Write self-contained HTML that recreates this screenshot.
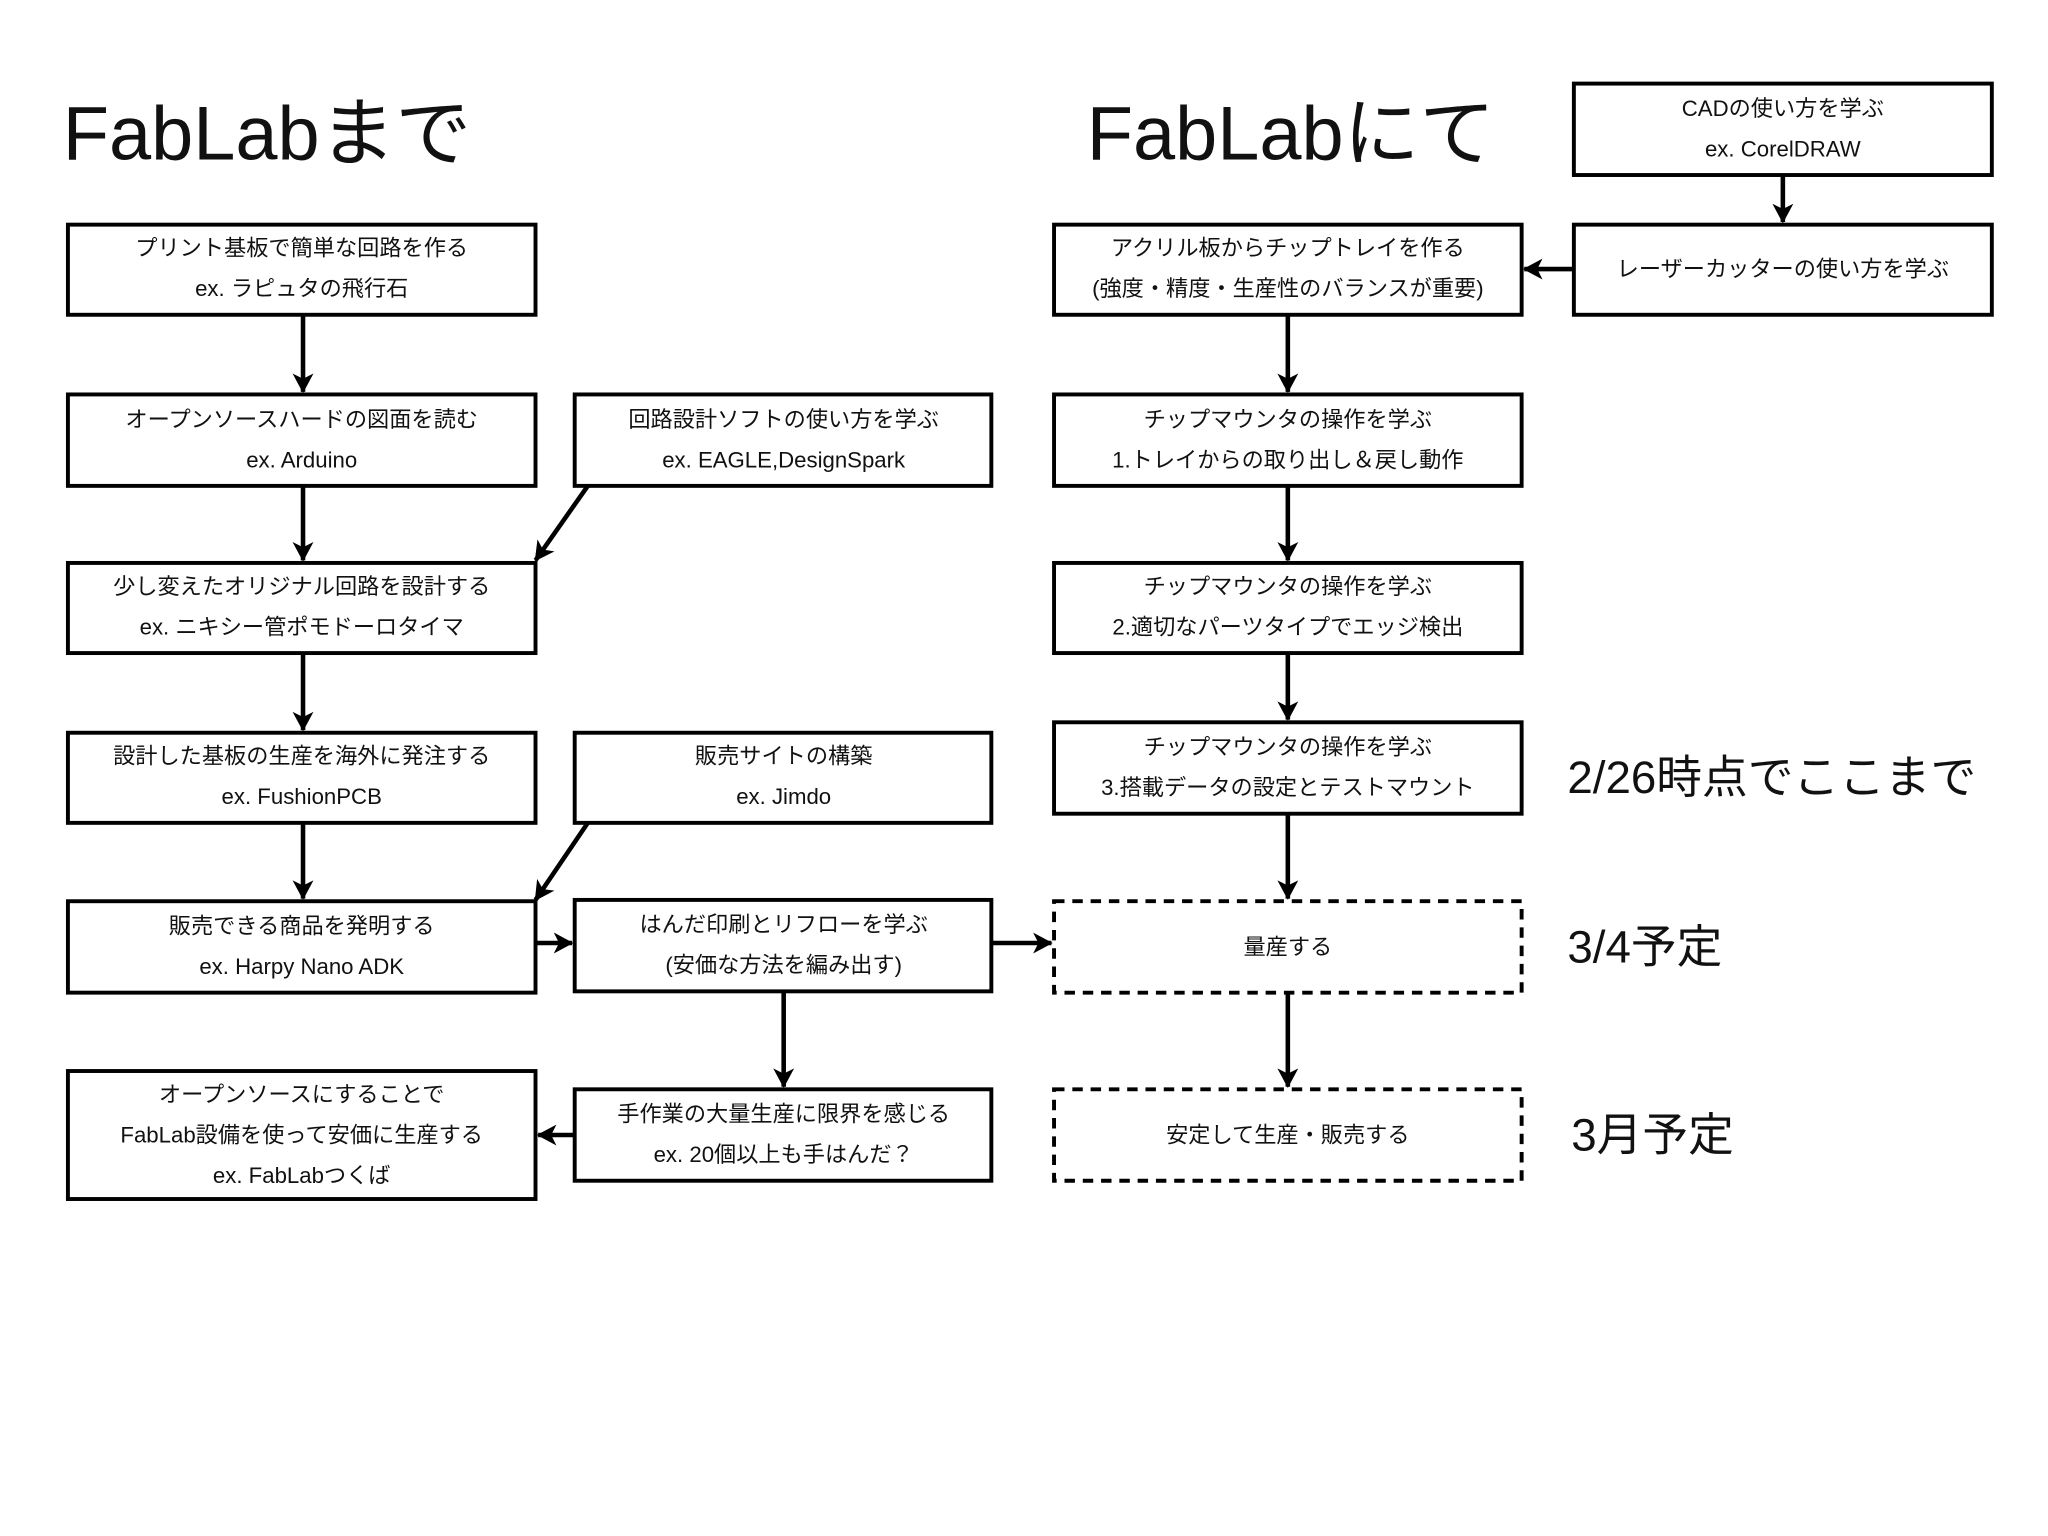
<!DOCTYPE html>
<html><head><meta charset="utf-8"><style>
html,body{margin:0;padding:0;background:#fff;}
svg{display:block;}
text{font-family:"Liberation Sans","Noto Sans CJK JP",sans-serif;fill:#111;}
.t{font-size:17px;text-anchor:middle;dominant-baseline:central;}
.b{fill:#fff;stroke:#000;stroke-width:3;}
.d{fill:#fff;stroke:#000;stroke-width:3;stroke-dasharray:8,6;}
.a{stroke:#000;stroke-width:3.5;fill:none;marker-end:url(#ah);}
</style></head><body>
<svg width="2048" height="1536" viewBox="0 0 1568 1176" xmlns="http://www.w3.org/2000/svg">
<defs>
<marker id="ah" markerWidth="18" markerHeight="16" refX="14" refY="8" orient="auto" markerUnits="userSpaceOnUse">
<path d="M0,0 L15,8 L0,16 L4,8 Z" fill="#000"/>
</marker>
</defs>
<text x="48" y="122" style="font-size:58px;">FabLabまで</text>
<text x="832" y="122" style="font-size:58px;">FabLabにて</text>

<!-- left column -->
<rect class="b" x="52" y="172" width="358" height="69"/>
<text class="t" x="231" y="190">プリント基板で簡単な回路を作る</text>
<text class="t" x="231" y="221">ex. ラピュタの飛行石</text>
<rect class="b" x="52" y="302" width="358" height="70"/>
<text class="t" x="231" y="321">オープンソースハードの図面を読む</text>
<text class="t" x="231" y="352">ex. Arduino</text>
<rect class="b" x="52" y="431" width="358" height="69"/>
<text class="t" x="231" y="449">少し変えたオリジナル回路を設計する</text>
<text class="t" x="231" y="480">ex. ニキシー管ポモドーロタイマ</text>
<rect class="b" x="52" y="561" width="358" height="69"/>
<text class="t" x="231" y="579">設計した基板の生産を海外に発注する</text>
<text class="t" x="231" y="610">ex. FushionPCB</text>
<rect class="b" x="52" y="690" width="358" height="70"/>
<text class="t" x="231" y="709">販売できる商品を発明する</text>
<text class="t" x="231" y="740">ex. Harpy Nano ADK</text>
<rect class="b" x="52" y="820" width="358" height="98"/>
<text class="t" x="231" y="838">オープンソースにすることで</text>
<text class="t" x="231" y="869">FabLab設備を使って安価に生産する</text>
<text class="t" x="231" y="900">ex. FabLabつくば</text>

<!-- middle column -->
<rect class="b" x="440" y="302" width="319" height="70"/>
<text class="t" x="600" y="321">回路設計ソフトの使い方を学ぶ</text>
<text class="t" x="600" y="352">ex. EAGLE,DesignSpark</text>
<rect class="b" x="440" y="561" width="319" height="69"/>
<text class="t" x="600" y="579">販売サイトの構築</text>
<text class="t" x="600" y="610">ex. Jimdo</text>
<rect class="b" x="440" y="689" width="319" height="70"/>
<text class="t" x="600" y="708">はんだ印刷とリフローを学ぶ</text>
<text class="t" x="600" y="739">(安価な方法を編み出す)</text>
<rect class="b" x="440" y="834" width="319" height="70"/>
<text class="t" x="600" y="853">手作業の大量生産に限界を感じる</text>
<text class="t" x="600" y="884">ex. 20個以上も手はんだ？</text>

<!-- right column -->
<rect class="b" x="807" y="172" width="358" height="69"/>
<text class="t" x="986" y="190">アクリル板からチップトレイを作る</text>
<text class="t" x="986" y="221">(強度・精度・生産性のバランスが重要)</text>
<rect class="b" x="807" y="302" width="358" height="70"/>
<text class="t" x="986" y="321">チップマウンタの操作を学ぶ</text>
<text class="t" x="986" y="352">1.トレイからの取り出し＆戻し動作</text>
<rect class="b" x="807" y="431" width="358" height="69"/>
<text class="t" x="986" y="449">チップマウンタの操作を学ぶ</text>
<text class="t" x="986" y="480">2.適切なパーツタイプでエッジ検出</text>
<rect class="b" x="807" y="553" width="358" height="70"/>
<text class="t" x="986" y="572">チップマウンタの操作を学ぶ</text>
<text class="t" x="986" y="603">3.搭載データの設定とテストマウント</text>
<rect class="d" x="807" y="690" width="358" height="70"/>
<text class="t" x="986" y="725">量産する</text>
<rect class="d" x="807" y="834" width="358" height="70"/>
<text class="t" x="986" y="869">安定して生産・販売する</text>

<!-- far right -->
<rect class="b" x="1205" y="64" width="320" height="70"/>
<text class="t" x="1365" y="83">CADの使い方を学ぶ</text>
<text class="t" x="1365" y="114">ex. CorelDRAW</text>
<rect class="b" x="1205" y="172" width="320" height="69"/>
<text class="t" x="1365" y="206">レーザーカッターの使い方を学ぶ</text>

<text x="1200" y="607" style="font-size:35px;">2/26時点でここまで</text>
<text x="1200" y="737" style="font-size:35px;">3/4予定</text>
<text x="1203" y="881" style="font-size:35px;">3月予定</text>

<!-- arrows -->
<line class="a" x1="232" y1="241" x2="232" y2="300"/>
<line class="a" x1="232" y1="372" x2="232" y2="429"/>
<line class="a" x1="232" y1="500" x2="232" y2="559"/>
<line class="a" x1="232" y1="630" x2="232" y2="688"/>
<line class="a" x1="450" y1="372" x2="410" y2="429"/>
<line class="a" x1="450" y1="630" x2="410" y2="689"/>
<line class="a" x1="410" y1="722" x2="438" y2="722"/>
<line class="a" x1="759" y1="722" x2="805" y2="722"/>
<line class="a" x1="600" y1="759" x2="600" y2="832"/>
<line class="a" x1="440" y1="869" x2="412" y2="869"/>
<line class="a" x1="986" y1="241" x2="986" y2="300"/>
<line class="a" x1="986" y1="372" x2="986" y2="429"/>
<line class="a" x1="986" y1="500" x2="986" y2="551"/>
<line class="a" x1="986" y1="623" x2="986" y2="688"/>
<line class="a" x1="986" y1="760" x2="986" y2="832"/>
<line class="a" x1="1365" y1="134" x2="1365" y2="170"/>
<line class="a" x1="1205" y1="206" x2="1167" y2="206"/>
</svg>
</body></html>
